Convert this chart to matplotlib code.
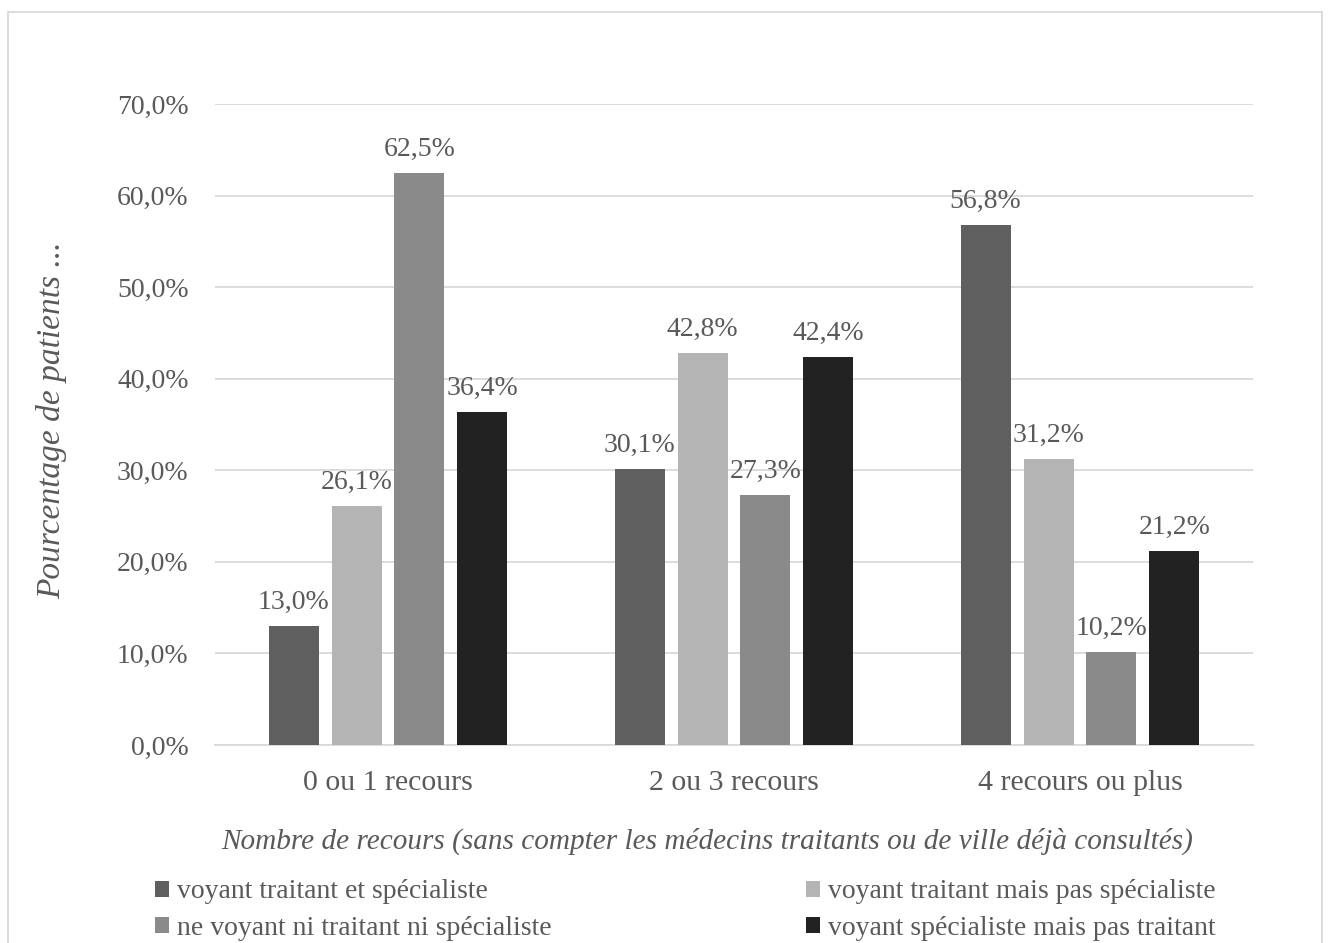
import numpy as np
import matplotlib
matplotlib.use('Agg')
import matplotlib.pyplot as plt
from matplotlib.patches import Rectangle

categories = ['0 ou 1 recours', '2 ou 3 recours', '4 recours ou plus']
series_names = ['voyant traitant et spécialiste',
                'voyant traitant mais pas spécialiste',
                'ne voyant ni traitant ni spécialiste',
                'voyant spécialiste mais pas traitant']
traitant_specialiste = [13.0, 30.1, 56.8]
traitant_seul = [26.1, 42.8, 31.2]
ni_traitant_ni_spe = [62.5, 27.3, 10.2]
specialiste_seul = [36.4, 42.4, 21.2]
colors = ['#5f5f5f', '#b4b4b4', '#8a8a8a', '#222222']

txt = '#595959'
plt.rcParams['font.family'] = ['Liberation Serif', 'DejaVu Serif']

fig = plt.figure(figsize=(13.3, 9.43), dpi=100)
ax = fig.add_axes([215/1330, 1-745/943, (1253-215)/1330, (745-104)/943])

x = np.arange(len(categories))
width = 0.1445
step = 0.182
all_series = [traitant_specialiste, traitant_seul, ni_traitant_ni_spe, specialiste_seul]
bars = []
for i, vals in enumerate(all_series):
    b = ax.bar(x + (i - 1.5) * step, vals, width, color=colors[i], label=series_names[i], zorder=3)
    bars.append(b)
    for rect, v in zip(b, vals):
        ax.annotate(('%.1f%%' % v).replace('.', ','),
                    (rect.get_x() + rect.get_width()/2, v),
                    xytext=(0, 8), textcoords='offset points',
                    ha='center', va='bottom', fontsize=20, color=txt)

ax.set_xlim(-0.5, 2.5)
ax.set_ylim(0, 70)
ax.set_yticks(np.arange(0, 71, 10))
ax.set_yticklabels([('%.1f%%' % t).replace('.', ',') for t in np.arange(0, 71, 10)])
ax.set_xticks(x)
ax.set_xticklabels(categories)
ax.tick_params(axis='y', length=0, labelsize=20, labelcolor=txt, pad=19)
ax.tick_params(axis='x', length=0, labelsize=21.5, labelcolor=txt, pad=18)
ax.grid(axis='y', color='#d9d9d9', linewidth=1.3, zorder=0)
for s in ['top', 'right', 'left']:
    ax.spines[s].set_visible(False)
ax.spines['bottom'].set_color('#d9d9d9')
ax.spines['bottom'].set_linewidth(1.3)

fig.text(707/1330, 1-849/943,
         'Nombre de recours (sans compter les médecins traitants ou de ville déjà consultés)',
         fontsize=21.1, style='italic', color=txt, ha='center', va='baseline')
fig.text(52/1330, 1-420/943, 'Pourcentage de patients ...', rotation=90, fontsize=24,
         style='italic', color=txt, ha='center', va='center')

order = [0, 2, 1, 3]
leg = fig.legend([bars[i] for i in order], [series_names[i] for i in order],
                 ncol=2, loc='center left', bbox_to_anchor=(155/1330, 1-910/943),
                 frameon=False, fontsize=20, handlelength=0.5, handleheight=0.5,
                 handletextpad=0.3, columnspacing=9.15, labelspacing=0.4,
                 borderaxespad=0, borderpad=0)
for t in leg.get_texts():
    t.set_color(txt)

fig.patches.append(Rectangle((8/1330, -0.02), 1314/1330, 1.02 - 12/943,
                             transform=fig.transFigure, fill=False,
                             edgecolor='#d9d9d9', linewidth=1.3))

fig.savefig('out.png', dpi=100)
